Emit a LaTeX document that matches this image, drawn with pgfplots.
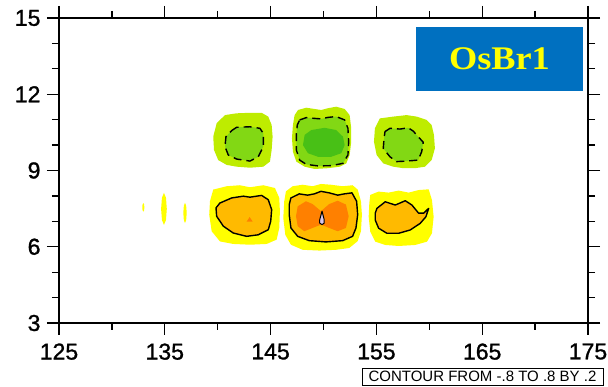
\documentclass[border=0pt]{standalone}
\usepackage{pgfplots}
\usepackage{pgfplotstable}
\pgfplotsset{compat=1.18}
\usepackage{fontspec}
\setmainfont{Liberation Sans}
\newfontfamily\ticksans[FakeBold=1.2]{Liberation Sans}
\newfontfamily\titleserif{Liberation Serif}

\definecolor{gA}{RGB}{190,236,0}
\definecolor{gB}{RGB}{130,216,20}
\definecolor{gC}{RGB}{72,192,22}
\definecolor{pA}{RGB}{255,255,0}
\definecolor{pB}{RGB}{255,186,0}
\definecolor{pC}{RGB}{255,128,0}
\definecolor{pD}{RGB}{218,198,236}
\definecolor{boxblue}{RGB}{0,112,192}

% negative cell, west
\pgfplotstableread{
x y
140.69 11.18
141.79 11.25
143.05 11.27
144.15 11.27
144.78 11.12
145.10 10.79
145.19 10.33
145.10 9.81
144.94 9.35
144.31 9.15
143.05 9.11
141.79 9.15
140.85 9.22
140.05 9.41
139.65 9.81
139.58 10.33
139.90 10.86
}\nwA
\pgfplotstableread{
x y
141.32 10.57
141.79 10.70
143.05 10.72
143.99 10.66
144.31 10.46
144.31 9.94
143.83 9.54
143.05 9.37
141.79 9.45
141.00 9.61
140.69 9.94
140.78 10.33
}\nwB
% negative cell, centre
\pgfplotstableread{
x y
147.59 11.38
148.37 11.47
149.16 11.42
149.79 11.38
150.42 11.45
151.20 11.51
152.00 11.42
152.47 11.18
152.62 10.66
152.62 10.13
152.47 9.61
152.15 9.28
151.53 9.15
150.42 9.09
149.16 9.06
148.22 9.15
147.43 9.35
147.11 9.74
147.02 10.27
147.11 10.79
147.27 11.18
}\ncA
\pgfplotstableread{
x y
147.75 10.99
148.37 11.08
149.16 11.05
149.79 11.03
150.42 11.09
151.20 11.12
152.00 10.99
152.31 10.66
152.38 10.13
152.31 9.61
151.84 9.28
150.73 9.19
149.48 9.18
148.37 9.24
147.75 9.41
147.43 9.81
147.43 10.40
147.52 10.79
}\ncB
\pgfplotstableread{
x y
148.22 10.40
148.84 10.59
150.11 10.68
151.20 10.59
151.84 10.33
152.00 10.00
151.68 9.68
150.73 9.54
149.48 9.54
148.53 9.68
148.06 10.00
}\ncC
% negative cell, east
\pgfplotstableread{
x y
155.33 11.05
156.59 11.12
157.86 11.18
158.80 11.12
159.75 10.99
160.22 10.79
160.44 10.40
160.53 9.87
160.22 9.41
159.59 9.15
158.64 9.09
157.54 9.09
156.59 9.15
155.65 9.28
155.02 9.61
154.77 10.13
154.86 10.66
}\neA
\pgfplotstableread{
x y
155.81 10.53
156.28 10.66
157.23 10.63
158.01 10.68
158.48 10.55
158.95 10.33
159.43 10.11
159.28 9.74
158.95 9.41
157.86 9.37
156.91 9.35
156.28 9.54
155.65 9.87
155.71 10.20
}\neB
% positive cell, west
\pgfplotstableread{
x y
139.58 8.25
140.85 8.38
142.10 8.42
143.05 8.34
144.31 8.42
145.41 8.31
145.82 7.92
145.88 7.40
145.82 6.74
145.57 6.28
144.63 6.11
143.05 6.08
141.47 6.11
140.21 6.21
139.43 6.61
139.20 7.26
139.27 7.79
}\pwA
\pgfplotstableread{
x y
140.21 7.72
141.32 7.92
142.42 7.99
143.05 7.95
144.15 8.02
144.78 7.85
145.10 7.46
145.01 7.00
144.78 6.67
143.83 6.47
142.74 6.41
141.47 6.54
140.53 6.81
139.90 7.20
139.84 7.53
}\pwB
\pgfplotstableread{
x y
142.74 6.99
143.02 7.17
143.31 6.99
}\pwC
% positive cell, centre
\pgfplotstableread{
x y
146.45 8.18
147.08 8.38
148.03 8.44
148.97 8.38
149.76 8.47
150.70 8.44
151.81 8.38
152.75 8.42
153.23 8.25
153.54 7.79
153.63 7.26
153.54 6.61
153.23 6.22
152.43 5.95
151.18 5.88
149.60 5.85
148.03 5.88
146.92 6.08
146.39 6.47
146.20 7.13
146.29 7.79
}\pcA
\pgfplotstableread{
x y
146.92 7.92
147.71 8.08
148.50 8.03
149.13 8.08
149.76 8.18
150.54 8.12
151.34 8.03
151.96 8.08
152.69 8.12
153.13 7.79
153.23 7.26
153.07 6.74
152.75 6.41
151.81 6.24
150.23 6.19
148.65 6.24
147.56 6.41
146.92 6.74
146.76 7.26
146.76 7.66
}\pcB
\pgfplotstableread{
x y
147.56 7.59
148.34 7.79
148.97 7.68
149.76 7.40
150.54 7.68
151.34 7.81
152.12 7.66
152.38 7.20
152.12 6.74
151.34 6.61
150.54 6.74
149.76 6.87
148.97 6.74
148.18 6.61
147.56 6.81
147.40 7.20
}\pcC
\pgfplotstableread{
x y
149.86 7.40
150.07 7.06
150.07 6.93
149.86 6.87
149.64 6.93
149.64 7.06
}\pcD
% positive cell, east
\pgfplotstableread{
x y
154.42 8.04
155.21 8.17
156.16 8.13
157.10 8.21
158.05 8.13
158.99 8.23
159.94 8.26
160.25 7.84
160.41 7.18
160.25 6.53
159.78 6.20
158.67 6.07
157.10 6.03
155.84 6.07
154.89 6.20
154.42 6.59
154.27 7.18
154.33 7.71
}\peA
\pgfplotstableread{
x y
155.05 7.51
155.84 7.77
156.78 7.64
157.73 7.81
158.36 7.64
158.99 7.32
159.46 7.32
159.94 7.51
159.68 7.18
159.14 6.92
158.20 6.66
157.10 6.53
155.99 6.53
155.21 6.73
154.89 7.05
154.89 7.32
}\peB
% weak positive streaks further west
\pgfplotstableread{
x y
132.97 7.72
133.04 7.67
133.07 7.55
133.04 7.43
132.97 7.38
132.90 7.43
132.87 7.55
132.90 7.67
}\sA
\pgfplotstableread{
x y
134.92 8.12
135.11 7.93
135.19 7.49
135.11 7.05
134.92 6.86
134.73 7.05
134.65 7.49
134.73 7.93
}\sB
\pgfplotstableread{
x y
136.91 7.73
137.02 7.61
137.07 7.33
137.02 7.05
136.91 6.93
136.80 7.05
136.75 7.33
136.80 7.61
}\sC

\begin{document}
\begin{tikzpicture}[x=1pt,y=1pt]
\path[use as bounding box] (-59,-64) rectangle (549,323);
\begin{axis}[
  at={(0,0)}, anchor=south west,
  scale only axis, width=529pt, height=305pt,
  xmin=125, xmax=175, ymin=3, ymax=15,
  xtick={125,135,...,175}, ytick={3,6,...,15},
  minor x tick num=1, minor y tick num=2,
  tick align=outside,
  major tick length=12pt, minor tick length=7pt,
  every tick/.style={black, line width=1.3pt},
  axis line style={line width=1.5pt},
  tick label style={font=\ticksans\fontsize{23}{23}\selectfont},
  xticklabel style={yshift=-5pt},
  yticklabel style={xshift=-3pt},
  /pgf/number format/assume math mode=true,
  axis on top,
]
% filled bands
\addplot[fill=gA, draw=none] table {\nwA} -- cycle;
\addplot[fill=gB, draw=none] table {\nwB} -- cycle;
\addplot[fill=gA, draw=none] table {\ncA} -- cycle;
\addplot[fill=gB, draw=none] table {\ncB} -- cycle;
\addplot[fill=gC, draw=none] table {\ncC} -- cycle;
\addplot[fill=gA, draw=none] table {\neA} -- cycle;
\addplot[fill=gB, draw=none] table {\neB} -- cycle;
\addplot[fill=pA, draw=none] table {\pwA} -- cycle;
\addplot[fill=pB, draw=none] table {\pwB} -- cycle;
\addplot[fill=pC, draw=none] table {\pwC} -- cycle;
\addplot[fill=pA, draw=none] table {\pcA} -- cycle;
\addplot[fill=pB, draw=none] table {\pcB} -- cycle;
\addplot[fill=pC, draw=none] table {\pcC} -- cycle;
\addplot[fill=pD, draw=none] table {\pcD} -- cycle;
\addplot[fill=pA, draw=none] table {\peA} -- cycle;
\addplot[fill=pB, draw=none] table {\peB} -- cycle;
\addplot[fill=pA, draw=none] table {\sA} -- cycle;
\addplot[fill=pA, draw=none] table {\sB} -- cycle;
\addplot[fill=pA, draw=none] table {\sC} -- cycle;
% contour lines: dashed for negative, solid for positive
\addplot[black, line width=1.4pt, dash pattern=on 8pt off 5pt, line join=round] table {\nwB} -- cycle;
\addplot[black, line width=1.4pt, dash pattern=on 8pt off 5pt, line join=round] table {\ncB} -- cycle;
\addplot[black, line width=1.4pt, dash pattern=on 8pt off 5pt, line join=round] table {\neB} -- cycle;
\addplot[black, line width=1.4pt, line join=round] table {\pwB} -- cycle;
\addplot[black, line width=1.4pt, line join=round] table {\pcB} -- cycle;
\addplot[black, line width=1.0pt, line join=round] table {\pcD} -- cycle;
\addplot[black, line width=1.4pt, line join=round] table {\peB} -- cycle;
% panel tag
\node[fill=boxblue, minimum width=167pt, minimum height=64pt, inner sep=0pt,
      text=pA, font=\titleserif\bfseries\fontsize{33}{33}\selectfont]
  at (axis cs:166.63,13.39) {\scalebox{1.1}[1]{OsBr1}};
\end{axis}
\node[draw=black, line width=0.9pt, minimum width=241pt, minimum height=17pt,
      inner sep=0pt, font=\fontsize{15}{15}\selectfont]
  at (423.5,-53.5) {CONTOUR FROM -.8 TO .8 BY .2};
\end{tikzpicture}
\end{document}
